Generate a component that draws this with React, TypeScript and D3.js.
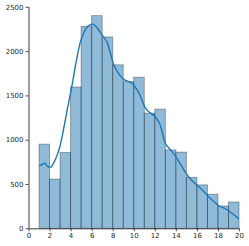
import React, { useRef, useEffect } from "react";
import * as d3 from "d3";

const binEdges = [1, 2, 3, 4, 5, 6, 7, 8, 9, 10, 11, 12, 13, 14, 15, 16, 17, 18, 19, 20];
const counts = [950, 555, 855, 1595, 2280, 2400, 2160, 1845, 1655, 1705, 1300, 1345, 885, 860, 575, 490, 385, 252, 297];

// density curve (x, count scale)
const kdeX = [1.0, 1.3, 1.55, 1.8, 2.1, 2.4, 2.7, 3.0, 3.3, 3.7, 4.1, 4.5, 4.9, 5.3, 5.7, 6.0, 6.3, 6.6, 7.0, 7.5, 8.1, 8.6, 9.0, 9.4, 9.8, 10.1, 10.5, 11.1, 11.6, 12.0, 12.5, 13.0, 13.5, 14.1, 14.6, 15.2, 15.7, 16.2, 16.7, 17.1, 17.6, 18.1, 18.5, 18.9, 19.3, 19.7, 20.0];
const kdeY = [705, 720, 735, 700, 690, 740, 820, 930, 1100, 1350, 1590, 1860, 2090, 2220, 2285, 2305, 2290, 2250, 2180, 2090, 1845, 1740, 1685, 1660, 1640, 1600, 1525, 1360, 1300, 1265, 1170, 960, 885, 790, 690, 582, 520, 469, 410, 357, 305, 252, 232, 207, 170, 135, 105];

const xTicks = [0, 2, 4, 6, 8, 10, 12, 14, 16, 18, 20];
const yTicks = [0, 500, 1000, 1500, 2000, 2500];

const W = 249;
const H = 246;

export default function App() {
  const svgRef = useRef<SVGSVGElement | null>(null);

  useEffect(() => {
    if (!svgRef.current) return;
    const svg = d3.select(svgRef.current);
    svg.selectAll("*").remove();

    const x = d3.scaleLinear().domain([0, 20]).range([28.5, 239]);
    const y = d3.scaleLinear().domain([0, 2500]).range([228.3, 6.8]);

    // bars
    svg
      .append("g")
      .selectAll("rect")
      .data(counts)
      .join("rect")
      .attr("x", (_, i) => x(binEdges[i]))
      .attr("y", (d) => y(d))
      .attr("width", (_, i) => x(binEdges[i + 1]) - x(binEdges[i]))
      .attr("height", (d) => y(0) - y(d))
      .attr("fill", "#1f77b4")
      .attr("fill-opacity", 0.5)
      .attr("stroke", "#000")
      .attr("stroke-opacity", 0.35)
      .attr("stroke-width", 0.9);

    // kde line
    const line = d3
      .line<number>()
      .x((_, i) => x(kdeX[i]))
      .y((d) => y(d))
      .curve(d3.curveMonotoneX);

    svg
      .append("path")
      .datum(kdeY)
      .attr("fill", "none")
      .attr("stroke", "#1f77b4")
      .attr("stroke-width", 1.4)
      .attr("stroke-linejoin", "round")
      .attr("d", line);

    // axes
    const xAxis = svg
      .append("g")
      .attr("transform", `translate(0,${y(0)})`)
      .call(
        d3
          .axisBottom(x)
          .tickValues(xTicks)
          .tickSize(3)
          .tickPadding(2)
          .tickFormat(d3.format("d"))
      );
    const yAxis = svg
      .append("g")
      .attr("transform", `translate(${x(0)},0)`)
      .call(
        d3
          .axisLeft(y)
          .tickValues(yTicks)
          .tickSize(3)
          .tickPadding(2)
          .tickFormat(d3.format("d"))
      );

    [xAxis, yAxis].forEach((g) => {
      g.select(".domain").attr("stroke", "#262626").attr("stroke-width", 0.9);
      g.selectAll(".tick line").attr("stroke", "#262626").attr("stroke-width", 0.8);
      g.selectAll(".tick text")
        .attr("fill", "#262626")
        .style("font-family", "DejaVu Sans")
        .style("font-size", "7px");
    });
    xAxis.select(".domain").attr("d", `M${x(0)},0.5H${x(20)}`);
    yAxis.select(".domain").attr("d", `M0.5,${y(0)}V${y(2500)}`);
  }, []);

  return (
    <svg
      ref={svgRef}
      width={W}
      height={H}
      style={{ position: "absolute", left: 0, top: 0, background: "#fff" }}
    />
  );
}
